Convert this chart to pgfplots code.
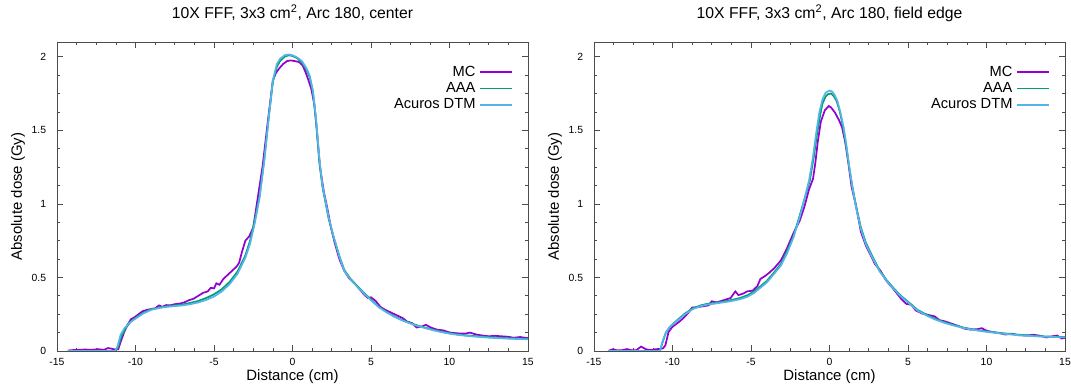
\documentclass[border=0pt]{standalone}
\usepackage{fontspec}
\setmainfont{Liberation Sans}
\usepackage{pgfplots}
\pgfplotsset{compat=1.18}
\definecolor{cMC}{HTML}{9400D3}
\definecolor{cAAA}{HTML}{009E73}
\definecolor{cAC}{HTML}{56B4E9}
\pgfplotsset{
  dosestyle/.style={
    scale only axis, width=353.25pt, height=231.75pt,
    xmin=-15, xmax=15, ymin=0, ymax=2.1,
    xtick={-15,-10,...,15}, ytick={0,0.5,1,1.5,2},
    minor x tick num=3, minor y tick num=3,
    tick align=inside, major tick length=4.5pt, minor tick length=2.5pt,
    axis line style={black!70, line width=0.6pt},
    every tick/.style={black!70, line width=0.5pt},
    /pgf/number format/assume math mode=true,
    tick label style={font=\fontsize{7.8}{9}\selectfont},
    yticklabel style={inner xsep=0pt, xshift=-8pt},
    xticklabel style={inner ysep=0pt, yshift=-5pt},
    xlabel={Distance (cm)}, ylabel={Absolute dose (Gy)},
    label style={font=\fontsize{11.2}{13}\selectfont},
    xlabel style={at={(axis description cs:0.5,-0.084)}, anchor=center},
    ylabel style={at={(axis description cs:-0.083,0.5)}, anchor=center},
    title style={font=\fontsize{11.8}{14}\selectfont, at={(axis description cs:0.5,1.05)}, anchor=base},
    legend style={draw=none, fill=none, font=\fontsize{11}{13}\selectfont,
      at={(axis description cs:0.978,0.935)}, anchor=north east,
      row sep=1.4pt,
      nodes={inner ysep=0pt, inner xsep=3pt, text height=8.4pt, text depth=2.4pt}},
    legend cell align=right,
    legend plot pos=right,
    legend image code/.code={\draw[#1, line width=1.4pt] (0pt,0pt) -- (24pt,0pt);},
    every axis plot/.append style={line width=1.3pt, mark=none},
  }
}
\begin{document}
\begin{tikzpicture}
\path[use as bounding box] (-42.75pt,-27.75pt) rectangle (760.5pt,263.25pt);
\begin{axis}[dosestyle, at={(0pt,0pt)}, anchor=south west,
  title={10X FFF, 3x3 cm\textsuperscript{2}, Arc 180, center}]
\addplot[cMC] coordinates {
(-14.3,0.003) (-14.0,0.006) (-13.6,0.008) (-13.2,0.01) (-12.8,0.008) (-12.4,0.012) (-12.0,0.008)
(-11.75,0.02) (-11.5,0.015) (-11.3,0.01) (-11.1,0.012) (-10.95,0.06) (-10.75,0.12) (-10.55,0.17)
(-10.3,0.215) (-10.05,0.23) (-9.8,0.25) (-9.55,0.27) (-9.25,0.28) (-9.0,0.285) (-8.75,0.29)
(-8.5,0.31) (-8.3,0.3) (-8.05,0.312) (-7.8,0.31) (-7.5,0.318) (-7.2,0.322) (-6.9,0.33)
(-6.6,0.345) (-6.3,0.355) (-6.0,0.375) (-5.7,0.395) (-5.4,0.405) (-5.2,0.43) (-5.0,0.425)
(-4.85,0.46) (-4.65,0.45) (-4.4,0.49) (-4.1,0.52) (-3.8,0.55) (-3.55,0.575) (-3.4,0.6)
(-3.2,0.68) (-3.0,0.75) (-2.75,0.78) (-2.5,0.84) (-2.2,1.05) (-1.9,1.26) (-1.55,1.58)
(-1.25,1.84) (-1.05,1.89) (-0.85,1.92) (-0.6,1.95) (-0.35,1.97) (-0.1,1.975) (0.15,1.97)
(0.4,1.965) (0.65,1.94) (0.85,1.89) (1.05,1.83) (1.2,1.78) (1.4,1.67) (1.55,1.5) (1.75,1.25)
(2.0,1.08) (2.2,0.98) (2.45,0.84) (2.7,0.73) (3.0,0.62) (3.3,0.545) (3.6,0.495) (3.9,0.465)
(4.2,0.43) (4.5,0.39) (4.8,0.36) (5.0,0.365) (5.3,0.34) (5.6,0.3) (5.9,0.28) (6.2,0.265)
(6.6,0.245) (7.0,0.225) (7.3,0.2) (7.6,0.19) (7.9,0.16) (8.2,0.165) (8.5,0.178) (8.8,0.16)
(9.2,0.145) (9.6,0.14) (10.0,0.126) (10.5,0.12) (11.0,0.118) (11.3,0.125) (11.7,0.112)
(12.1,0.105) (12.5,0.1) (12.9,0.103) (13.3,0.1) (13.7,0.097) (14.1,0.09) (14.5,0.095)
(14.8,0.09) (15.0,0.088)
};
\addlegendentry{MC}
\addplot[cAAA] coordinates {
(-14.3,0) (-11.3,0) (-11.1,0.03) (-10.9,0.1) (-10.6,0.16) (-10.3,0.2) (-10.0,0.225)
(-9.5,0.26) (-9.0,0.283) (-8.5,0.295) (-8.0,0.303) (-7.5,0.31) (-7.0,0.316) (-6.5,0.327)
(-6.0,0.34) (-5.5,0.36) (-5.0,0.385) (-4.5,0.42) (-4.0,0.47) (-3.5,0.54) (-3.0,0.65)
(-2.7,0.75) (-2.4,0.89) (-2.1,1.05) (-1.8,1.3) (-1.5,1.6) (-1.25,1.83) (-1.0,1.93)
(-0.8,1.97) (-0.5,2.0) (-0.25,2.01) (0.0,2.005) (0.3,1.99) (0.6,1.96) (0.9,1.91) (1.1,1.86)
(1.3,1.76) (1.5,1.56) (1.7,1.3) (1.9,1.12) (2.1,1.01) (2.3,0.9) (2.6,0.78) (3.0,0.64)
(3.3,0.55) (3.7,0.49) (4.0,0.455) (4.5,0.40) (5.0,0.35) (5.5,0.30) (6.0,0.265) (6.5,0.235)
(7.0,0.21) (7.5,0.19) (8.0,0.172) (8.5,0.157) (9.0,0.143) (9.5,0.131) (10.0,0.121)
(10.5,0.113) (11.0,0.107) (11.5,0.102) (12.0,0.098) (12.5,0.094) (13.0,0.091) (13.5,0.088)
(14.0,0.086) (14.5,0.084) (15.0,0.082)
};
\addlegendentry{AAA}
\addplot[cAC] coordinates {
(-14.3,0) (-11.3,0) (-11.15,0.03) (-10.95,0.11) (-10.7,0.155) (-10.4,0.19) (-10.0,0.22)
(-9.5,0.255) (-9.0,0.28) (-8.5,0.292) (-8.0,0.3) (-7.5,0.305) (-7.0,0.31) (-6.5,0.318)
(-6.0,0.33) (-5.5,0.347) (-5.0,0.37) (-4.5,0.405) (-4.0,0.455) (-3.5,0.525) (-3.0,0.635)
(-2.7,0.73) (-2.4,0.87) (-2.1,1.04) (-1.8,1.29) (-1.5,1.6) (-1.25,1.84) (-1.0,1.95)
(-0.8,1.985) (-0.5,2.01) (-0.25,2.015) (0.0,2.01) (0.3,1.995) (0.6,1.97) (0.9,1.92)
(1.1,1.87) (1.3,1.77) (1.5,1.58) (1.7,1.32) (1.9,1.13) (2.1,1.02) (2.3,0.91) (2.6,0.785)
(3.0,0.635) (3.3,0.545) (3.7,0.485) (4.0,0.45) (4.5,0.395) (5.0,0.345) (5.5,0.297)
(6.0,0.262) (6.5,0.232) (7.0,0.207) (7.5,0.187) (8.0,0.169) (8.5,0.154) (9.0,0.14)
(9.5,0.128) (10.0,0.118) (10.5,0.11) (11.0,0.104) (11.5,0.099) (12.0,0.095) (12.5,0.091)
(13.0,0.088) (13.5,0.085) (14.0,0.083) (14.5,0.081) (15.0,0.079)
};
\addlegendentry{Acuros DTM}
\end{axis}
\begin{axis}[dosestyle, at={(402.75pt,0pt)}, anchor=south west,
  title={10X FFF, 3x3 cm\textsuperscript{2}, Arc 180, field edge}]
\addplot[cMC] coordinates {
(-14.1,0.0) (-13.8,0.012) (-13.5,0.004) (-13.2,0.006) (-12.9,0.013) (-12.6,0.005) (-12.3,0.006)
(-12.0,0.03) (-11.7,0.012) (-11.4,0.006) (-11.1,0.012) (-10.8,0.014) (-10.6,0.018) (-10.45,0.04)
(-10.25,0.13) (-10.0,0.165) (-9.8,0.18) (-9.5,0.205) (-9.2,0.235) (-8.95,0.265) (-8.75,0.295)
(-8.4,0.298) (-8.0,0.305) (-7.7,0.31) (-7.5,0.338) (-7.2,0.33) (-6.9,0.34) (-6.6,0.35)
(-6.3,0.36) (-6.0,0.405) (-5.8,0.38) (-5.5,0.39) (-5.25,0.405) (-4.9,0.41) (-4.6,0.44)
(-4.4,0.49) (-4.1,0.51) (-3.8,0.535) (-3.5,0.565) (-3.1,0.615) (-2.7,0.70) (-2.3,0.80)
(-1.9,0.885) (-1.6,0.98) (-1.3,1.10) (-1.05,1.17) (-0.9,1.28) (-0.75,1.42) (-0.55,1.56)
(-0.3,1.635) (-0.05,1.665) (0.1,1.655) (0.35,1.62) (0.6,1.57) (0.8,1.52) (1.0,1.42)
(1.2,1.28) (1.4,1.12) (1.7,0.98) (2.0,0.81) (2.3,0.72) (2.6,0.655) (2.9,0.59) (3.25,0.545)
(3.6,0.48) (4.0,0.43) (4.3,0.39) (4.6,0.35) (4.9,0.32) (5.2,0.315) (5.5,0.275) (5.9,0.255)
(6.3,0.245) (6.7,0.235) (7.0,0.21) (7.4,0.2) (7.8,0.185) (8.2,0.17) (8.6,0.152) (9.0,0.145)
(9.4,0.148) (9.7,0.155) (10.0,0.138) (10.4,0.128) (10.8,0.122) (11.2,0.112) (11.6,0.118)
(12.0,0.108) (12.5,0.105) (13.0,0.11) (13.4,0.104) (13.8,0.092) (14.2,0.1) (14.5,0.105)
(14.8,0.085) (15.0,0.09)
};
\addlegendentry{MC}
\addplot[cAAA] coordinates {
(-14.1,0) (-10.8,0) (-10.6,0.07) (-10.4,0.13) (-10.15,0.165) (-9.7,0.21) (-9.2,0.255)
(-8.7,0.29) (-8.2,0.31) (-7.8,0.32) (-7.3,0.327) (-6.8,0.335) (-6.3,0.345) (-5.7,0.36)
(-5.2,0.38) (-4.8,0.405) (-4.4,0.44) (-4.0,0.475) (-3.6,0.525) (-3.1,0.59) (-2.7,0.68)
(-2.3,0.78) (-1.9,0.92) (-1.6,1.03) (-1.25,1.16) (-1.0,1.32) (-0.8,1.47) (-0.6,1.6)
(-0.45,1.68) (-0.25,1.73) (-0.1,1.745) (0.1,1.75) (0.25,1.735) (0.45,1.70) (0.65,1.63)
(0.85,1.53) (1.05,1.40) (1.25,1.25) (1.45,1.12) (1.7,0.98) (2.0,0.84) (2.3,0.74) (2.7,0.65)
(3.2,0.545) (3.65,0.48) (4.1,0.425) (4.5,0.38) (5.0,0.335) (5.6,0.28) (6.2,0.245) (6.7,0.22)
(7.3,0.196) (7.9,0.177) (8.5,0.16) (9.2,0.146) (9.8,0.136) (10.5,0.127) (11.2,0.119)
(12.0,0.111) (12.8,0.105) (13.5,0.1) (14.2,0.097) (15.0,0.095)
};
\addlegendentry{AAA}
\addplot[cAC] coordinates {
(-14.1,0) (-10.8,0) (-10.65,0.06) (-10.45,0.12) (-10.2,0.16) (-9.7,0.205) (-9.2,0.25)
(-8.7,0.285) (-8.2,0.305) (-7.8,0.315) (-7.3,0.322) (-6.8,0.33) (-6.3,0.338) (-5.7,0.352)
(-5.2,0.37) (-4.8,0.395) (-4.4,0.43) (-4.0,0.465) (-3.6,0.515) (-3.1,0.58) (-2.7,0.665)
(-2.3,0.77) (-1.9,0.91) (-1.6,1.03) (-1.3,1.16) (-1.05,1.32) (-0.85,1.48) (-0.65,1.62)
(-0.45,1.71) (-0.25,1.755) (0.0,1.77) (0.15,1.765) (0.3,1.745) (0.5,1.70) (0.7,1.62)
(0.9,1.52) (1.05,1.42) (1.25,1.26) (1.45,1.12) (1.7,0.97) (2.0,0.83) (2.3,0.73) (2.7,0.64)
(3.2,0.54) (3.65,0.475) (4.1,0.42) (4.5,0.375) (5.0,0.33) (5.6,0.275) (6.2,0.24) (6.7,0.215)
(7.3,0.192) (7.9,0.173) (8.5,0.157) (9.2,0.143) (9.8,0.133) (10.5,0.124) (11.2,0.116)
(12.0,0.108) (12.8,0.102) (13.5,0.098) (14.2,0.095) (15.0,0.093)
};
\addlegendentry{Acuros DTM}
\end{axis}
\end{tikzpicture}
\end{document}
